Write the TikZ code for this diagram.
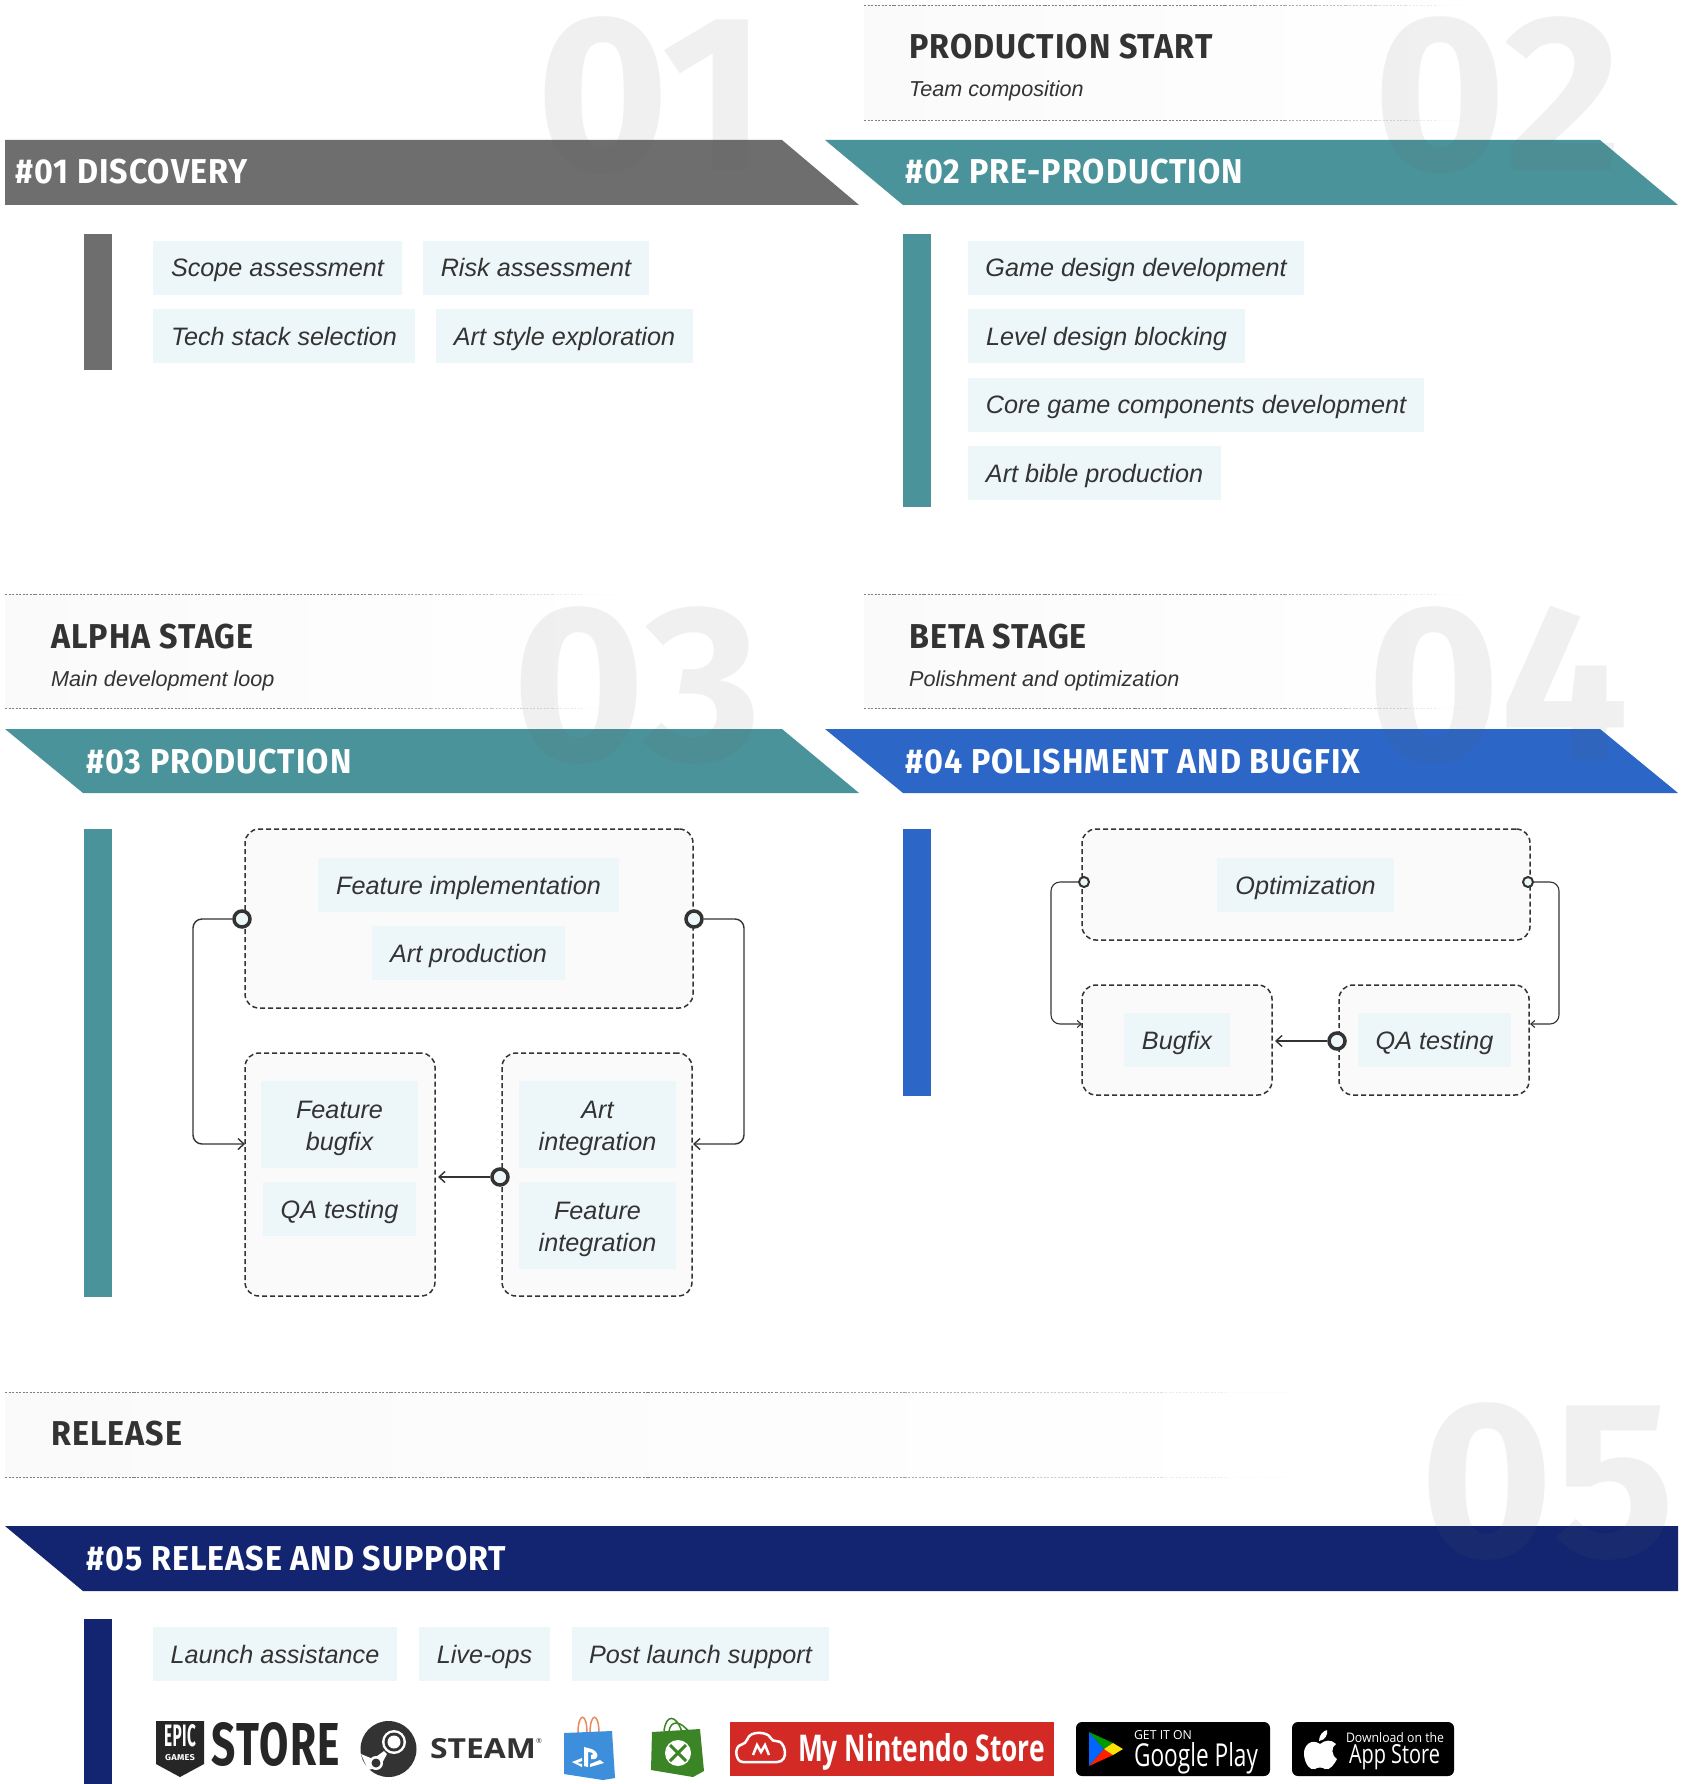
\documentclass[tikz,border=0pt]{standalone}
\usepackage{fontspec}
\usepackage{graphicx}
\setmainfont{Liberation Sans}
\newfontfamily\headfont[FakeStretch=0.935,LetterSpace=3]{Fira Sans}
\newfontfamily\digitfont[FakeStretch=1.02]{Fira Sans}
\newfontfamily\logofont{Open Sans}
\usetikzlibrary{arrows.meta}
\definecolor{greyband}{HTML}{6E6E6E}
\definecolor{tealband}{HTML}{4B939A}
\definecolor{blueband}{HTML}{2C66C7}
\definecolor{navyband}{HTML}{132570}
\definecolor{chipfill}{HTML}{EDF6F8}
\definecolor{boxfill}{HTML}{FAFAFA}
\definecolor{inktext}{HTML}{333333}
\definecolor{digitgrey}{HTML}{626262}
\definecolor{psblue}{HTML}{3D8FDC}
\definecolor{psorange}{HTML}{E88A5A}
\definecolor{xboxgreen}{HTML}{3C8526}
\definecolor{nintendored}{HTML}{D32A25}
\newcommand{\fadedrule}[3]{%
    \foreach \s in {0,...,19} {
        \pgfmathsetmacro\dashgrey{\s<12 ? 50 : 50-(\s-11)*6}
        \draw[dash pattern=on 2pt off 1.5pt,line width=0.8pt,black!\dashgrey] ({#1+(#2-#1)/20*\s},#3) -- ({#1+(#2-#1)/20*(\s+1)},#3);
    }
}
\newcommand{\topgap}{\rule{0pt}{26pt}}
\tikzset{
    chip/.style={fill=chipfill,text=inktext,font=\fontsize{25.2}{32}\selectfont\itshape,inner sep=0pt,minimum height=54pt,text height=20pt,text depth=2pt},
    chiptwo/.style={fill=chipfill,text=inktext,font=\fontsize{25.2}{32}\selectfont\itshape,align=center,inner sep=0pt,minimum height=87pt},
    loopbox/.style={draw=inktext,fill=boxfill,dash pattern=on 5pt off 3pt,line width=1.5pt,rounded corners=14pt,inner sep=0pt},
    port/.style={circle,draw=inktext,fill=chipfill,line width=3.5pt,minimum size=16pt,inner sep=0pt},
    smallport/.style={circle,draw=inktext,fill=chipfill,line width=2pt,minimum size=10pt,inner sep=0pt},
    loopline/.style={draw=inktext,line width=1.4pt,rounded corners=9pt,-{Straight Barb[length=6pt,width=11pt]}},
    bandtext/.style={anchor=base west,inner sep=0pt,text=white,font=\headfont\bfseries\fontsize{34.5}{34}\selectfont},
    stagetitle/.style={anchor=base west,inner sep=0pt,text=inktext,font=\headfont\bfseries\fontsize{34.5}{34}\selectfont},
    stagenote/.style={anchor=base west,inner sep=0pt,text=inktext,font=\fontsize{21.6}{26}\selectfont\itshape},
    bignum/.style={anchor=base east,inner sep=0pt,text=digitgrey,text opacity=0.09,font=\digitfont\bfseries\fontsize{223}{223}\selectfont},
    logotext/.style={inner sep=0pt,text=white}
}
\begin{document}
\begin{tikzpicture}[x=1pt,y=-1pt]
    \useasboundingbox (0,0) rectangle (1682,1784);
    \fill[white] (0,0) rectangle (1682,1784);

    \shade[left color=boxfill,right color=white] (864,5) rectangle (1466,120);
    \fadedrule{864}{1466}{5}
    \fadedrule{864}{1466}{120}
    \shade[left color=boxfill,right color=white] (5,594) rectangle (614,708);
    \fadedrule{5}{614}{594}
    \fadedrule{5}{614}{708}
    \shade[left color=boxfill,right color=white] (864,594) rectangle (1466,708);
    \fadedrule{864}{1466}{594}
    \fadedrule{864}{1466}{708}
    \shade[left color=boxfill,right color=white] (5,1392) rectangle (1290,1477);
    \fadedrule{5}{1290}{1392}
    \fadedrule{5}{1290}{1477}

    \fill[greyband] (5,140) -- (782,140) -- (859,205) -- (5,205) -- cycle;
    \fill[tealband] (825,140) -- (1600,140) -- (1678,205) -- (903,205) -- cycle;
    \fill[tealband] (5,729) -- (782,729) -- (859,793) -- (83,793) -- cycle;
    \fill[blueband] (825,729) -- (1600,729) -- (1678,793) -- (903,793) -- cycle;
    \fill[navyband] (5,1526) -- (1678,1526) -- (1678,1591) -- (83,1591) -- cycle;

    \fill[greyband] (84,234) rectangle (112,370);
    \fill[tealband] (903,234) rectangle (931,507);
    \fill[tealband] (84,829) rectangle (112,1297);
    \fill[blueband] (903,829) rectangle (931,1096);
    \fill[navyband] (84,1619) rectangle (112,1784);

    \node[bignum] (numone) at (767,171) {0\kern-8pt 1};
    \node[bignum] (numtwo) at (1622,171) {02};
    \node[bignum] (numthree) at (762,760) {03};
    \node[bignum] (numfour) at (1629,760) {04};
    \node[bignum] (numfive) at (1676,1556) {05};

    \node[bandtext] (bandone) at (15,184) {\#01 DISCOVERY};
    \node[bandtext] (bandtwo) at (905,184) {\#02 PRE-PRODUCTION};
    \node[bandtext] (bandthree) at (86,773) {\#03 PRODUCTION};
    \node[bandtext] (bandfour) at (905,773) {\#04 POLISHMENT AND BUGFIX};
    \node[bandtext] (bandfive) at (86,1570) {\#05 RELEASE AND SUPPORT};

    \node[stagetitle] (titletwo) at (909,59) {PRODUCTION START};
    \node[stagenote] (notetwo) at (909,97) {Team composition};
    \node[stagetitle] (titlethree) at (51,648) {ALPHA STAGE};
    \node[stagenote] (notethree) at (51,686) {Main development loop};
    \node[stagetitle] (titlefour) at (909,648) {BETA STAGE};
    \node[stagenote] (notefour) at (909,686) {Polishment and optimization};
    \node[stagetitle] (titlefive) at (51,1445) {RELEASE};

    \node[chip,minimum width=249pt] (scope) at (277.5,268) {Scope assessment};
    \node[chip,minimum width=226pt] (risk) at (536,268) {Risk assessment};
    \node[chip,minimum width=262pt] (stack) at (284,336) {Tech stack selection};
    \node[chip,minimum width=257pt] (style) at (564.5,336) {Art style exploration};

    \node[chip,minimum width=336pt] (gamedesign) at (1136,268) {Game design development};
    \node[chip,minimum width=277pt] (leveldesign) at (1106.5,336) {Level design blocking};
    \node[chip,minimum width=456pt] (corecomp) at (1196,404.5) {Core game components development};
    \node[chip,minimum width=253pt] (artbible) at (1094.5,473) {Art bible production};

    \node[loopbox,minimum width=448pt,minimum height=179pt] (implbox) at (469,918.5) {};
    \node[loopbox,minimum width=190pt,minimum height=243pt] (fixbox) at (340,1174.5) {};
    \node[loopbox,minimum width=190pt,minimum height=243pt] (mergebox) at (597,1174.5) {};
    \node[chip,minimum width=301pt] (featimpl) at (468.5,885) {Feature implementation};
    \node[chip,minimum width=193pt] (artprod) at (468.5,953) {Art production};
    \node[chiptwo,minimum width=157pt] (featfix) at (339.5,1124.5) {\topgap Feature\\bugfix};
    \node[chip,minimum width=153pt] (qaone) at (339.5,1209) {QA testing};
    \node[chiptwo,minimum width=157pt] (artint) at (597.5,1124.5) {\topgap Art\\integration};
    \node[chiptwo,minimum width=157pt] (featint) at (597.5,1225) {\topgap Feature\\integration};
    \node[port] (implout) at (242,919) {};
    \node[port] (implin) at (694,919) {};
    \node[port] (mergeout) at (500,1177) {};
    \coordinate (fixin) at (245,1144);
    \coordinate (mergein) at (693,1144);
    \coordinate (fixside) at (438,1177);
    \draw[loopline] (implout) -- ++(-49,0) |- (fixin);
    \draw[loopline] (implin) -- ++(50,0) |- (mergein);
    \draw[loopline] (mergeout) -- (fixside);

    \node[loopbox,minimum width=448pt,minimum height=111pt] (optbox) at (1306,884.5) {};
    \node[loopbox,minimum width=190pt,minimum height=110pt] (bugbox) at (1177,1040) {};
    \node[loopbox,minimum width=190pt,minimum height=110pt] (qabox) at (1434,1040) {};
    \node[chip,minimum width=177pt] (optim) at (1305.5,885) {Optimization};
    \node[chip,minimum width=106pt] (bugfix) at (1177,1040) {Bugfix};
    \node[chip,minimum width=153pt] (qatwo) at (1434.5,1040) {QA testing};
    \node[smallport] (optout) at (1084,882) {};
    \node[smallport] (optin) at (1528,882) {};
    \node[port] (qaout) at (1337,1041) {};
    \coordinate (bugin) at (1082,1024);
    \coordinate (qain) at (1530,1024);
    \coordinate (bugside) at (1275,1041);
    \draw[loopline,line width=1.1pt,-{Straight Barb[length=4pt,width=7pt]}] (optout) -- ++(-33,0) |- (bugin);
    \draw[loopline,line width=1.1pt,-{Straight Barb[length=4pt,width=7pt]}] (optin) -- ++(31,0) |- (qain);
    \draw[loopline] (qaout) -- (bugside);

    \node[chip,minimum width=244pt] (launch) at (275,1654) {Launch assistance};
    \node[chip,minimum width=131pt] (liveops) at (484.5,1654) {Live-ops};
    \node[chip,minimum width=257pt] (postlaunch) at (700.5,1654) {Post launch support};

    \fill[black!85] (156,1721) -- (204,1721) -- (204,1764) -- (180,1777) -- (156,1764) -- cycle;
    \node[logotext] (epicword) at (180,1736) {\resizebox{32pt}{22pt}{\headfont\bfseries EPIC}};
    \node[logotext] (epicgames) at (180,1758) {\resizebox{30pt}{6pt}{\headfont\bfseries GAMES}};
    \node[logotext,text=black!85] (storeword) at (276,1744.5) {\resizebox{128pt}{43pt}{\headfont\bfseries STORE}};

    \fill[black!80] (388.5,1749) circle (28);
    \fill[white] (394,1742) circle (12);
    \fill[black!80] (394,1742) circle (9.5);
    \fill[white] (394,1742) circle (6.5);
    \fill[white] (361,1754) -- (373,1759) -- (384,1751) -- (387,1754) -- (380,1767) -- (368,1770) -- cycle;
    \fill[white] (376,1763) circle (7);
    \fill[black!80] (376,1763) circle (4.5);
    \node[logotext,text=black!80] (steamword) at (483,1749) {\resizebox{106pt}{20pt}{\logofont\bfseries STEAM}};
    \node[logotext,text=black!80,font=\logofont\fontsize{7}{8}\selectfont] (steamreg) at (539,1741) {®};

    \draw[psorange,line width=1.5pt] (578,1733) .. controls (578,1712) and (587,1712) .. (587,1733);
    \draw[psorange,line width=1.5pt] (590,1733) .. controls (590,1712) and (599,1712) .. (599,1733);
    \fill[psblue] (564,1733) -- (612,1731) -- (615,1778) -- (603,1780) -- (564,1774) -- cycle;
    \fill[white] (584,1747) -- (588,1748) -- (588,1767) -- (584,1766) -- cycle;
    \fill[white] (588,1748) .. controls (600,1750) and (600,1761) .. (591,1759) -- (591,1755) .. controls (594,1755) and (594,1752) .. (588,1752) -- cycle;
    \fill[white] (572,1762) -- (582,1758) -- (582,1761) -- (577,1763) -- (582,1764) -- (582,1767) -- cycle;
    \fill[white] (590,1767) -- (604,1763) -- (600,1760) -- (590,1764) -- cycle;

    \draw[xboxgreen,line width=1.5pt] (664,1731) .. controls (666,1714) and (676,1714) .. (682,1732);
    \draw[xboxgreen,line width=1.5pt] (669,1731) .. controls (671,1720) and (680,1720) .. (690,1733);
    \fill[xboxgreen] (652,1732) -- (700,1729) -- (704,1771) -- (693,1777) -- (651,1770) -- cycle;
    \fill[white] (678,1753) circle (13);
    \draw[xboxgreen,line width=3pt] (670,1745) -- (686,1761);
    \draw[xboxgreen,line width=3pt] (686,1745) -- (670,1761);

    \fill[nintendored] (730,1722) rectangle (1054,1776);
    \draw[white,line width=2.5pt,rounded corners=5pt] (748,1762) .. controls (735,1762) and (734,1746) .. (746,1744) .. controls (750,1730) and (768,1732) .. (772,1742) .. controls (785,1740) and (790,1762) .. (772,1762) -- cycle;
    \draw[white,line width=2.5pt] (753,1755) -- (757,1745) -- (761,1752) -- (765,1745) -- (769,1755);
    \node[logotext] (nintendoword) at (921.5,1752) {\resizebox{247pt}{28pt}{\logofont\bfseries My Nintendo Store}};

    \fill[black,rounded corners=6pt] (1076,1722) rectangle (1270,1776);
    \fill[blue!60!cyan] (1089,1732) -- (1104,1749) -- (1089,1766) -- cycle;
    \fill[red!75!orange] (1089,1766) -- (1104,1749) -- (1113,1755) -- cycle;
    \fill[green!60!black] (1089,1732) -- (1104,1749) -- (1113,1743) -- cycle;
    \fill[yellow!85!orange] (1104,1749) -- (1113,1743) -- (1123,1749) -- (1113,1755) -- cycle;
    \node[logotext] (getiton) at (1163,1735) {\resizebox{58pt}{9pt}{\logofont GET IT ON}};
    \node[logotext] (googleword) at (1196,1758) {\resizebox{124pt}{24pt}{\logofont Google Play}};

    \fill[black,rounded corners=6pt] (1292,1722) rectangle (1454,1776);
    \fill[white] (1320,1744) .. controls (1312,1738) and (1303,1745) .. (1304,1755) .. controls (1305,1764) and (1310,1771) .. (1315,1769) .. controls (1318,1767) and (1322,1767) .. (1325,1769) .. controls (1330,1771) and (1335,1763) .. (1337,1759) .. controls (1331,1755) and (1331,1747) .. (1336,1744) .. controls (1331,1739) and (1325,1740) .. (1320,1744) -- cycle;
    \fill[white] (1319,1741) .. controls (1319,1735) and (1323,1731) .. (1327,1730) .. controls (1328,1735) and (1325,1740) .. (1319,1741) -- cycle;
    \node[logotext] (downloadword) at (1395,1738) {\resizebox{98pt}{10pt}{\logofont Download on the}};
    \node[logotext] (appword) at (1394.5,1757) {\resizebox{91pt}{19pt}{\logofont App Store}};
\end{tikzpicture}
\end{document}
